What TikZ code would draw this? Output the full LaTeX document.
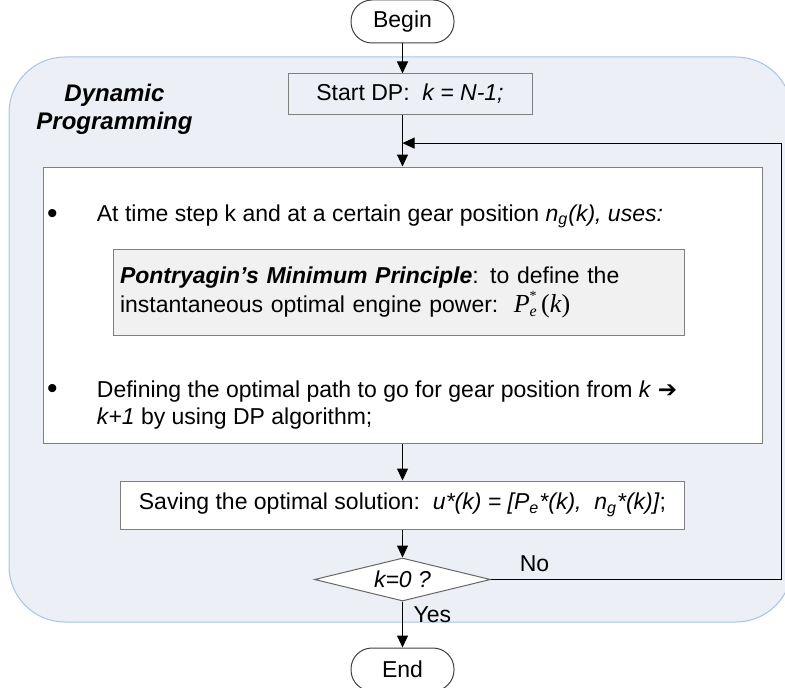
\documentclass[tikz,border=0pt]{standalone}
\usepackage{fontspec}
\setmainfont{Liberation Sans}
\newfontfamily\symfont{DejaVu Sans}
\newfontfamily\serif{Liberation Serif}
\usepackage{tikz}
\usetikzlibrary{arrows.meta,positioning,shapes.geometric,calc}
\definecolor{panelfill}{HTML}{ECEFF5}
\definecolor{panelline}{HTML}{A6C3EA}
\definecolor{boxline}{HTML}{7F7F7F}
\definecolor{greyfill}{HTML}{F1F1F1}
\newcommand{\pestar}{{\serif\fontsize{13}{14}\selectfont\textit{P}\rlap{\raisebox{5.8pt}{\fontsize{7}{7}\selectfont *}}\raisebox{-2.2pt}{\fontsize{8}{8}\selectfont\textit{e}}\,(\textit{k})}}

\begin{document}
\begin{tikzpicture}[
  x=1pt,y=1pt,
  font=\fontsize{11.5}{13.5}\selectfont,
  node distance=15pt,
  term/.style={draw=black!75,line width=0.5pt,rounded corners=10.5pt,fill=white,minimum width=51.5pt,minimum height=21.5pt,inner sep=0pt},
  box/.style={draw=boxline,line width=0.5pt,inner sep=0pt,align=center},
  decision/.style={draw=black!60,line width=0.5pt,diamond,aspect=4,fill=white,inner sep=0pt,minimum width=88pt,minimum height=21.5pt},
  arr/.style={-{Triangle[length=6pt,width=5.5pt]},line width=0.5pt},
  lbl/.style={inner sep=0pt},
  dot/.style={inner sep=0pt,font=\fontsize{15}{15}\selectfont}
]
\useasboundingbox (0,0) rectangle (392.5,343.5);
% background panel
\begin{scope}
\clip (0,0) rectangle (392.5,343.5);
\draw[panelline,fill=panelfill,line width=0.5pt,rounded corners=28pt] (4.5,32.5) rectangle (396,315);
\end{scope}
\node[lbl,font=\fontsize{12}{14}\selectfont\bfseries\itshape,align=center] (dp) at (57.25,289) {Dynamic\\Programming};

\node[term] (begin) at (201.25,332.75) {Begin};
\node[box,fill=panelfill,minimum width=122pt,minimum height=20pt,below=15pt of begin,xshift=3.75pt] (start) {Start DP:\ \ \textit{k = N-1;}};
\node[box,fill=white,minimum width=359.5pt,minimum height=138pt,below=26pt of start,xshift=-3.75pt] (bigbox) {};
\node[box,fill=greyfill,align=left,inner xsep=3.5pt,text width=278.5pt,minimum height=43pt,font=\fontsize{11.5}{14.5}\selectfont,below=41pt of bigbox.north,xshift=-2pt] (pmp) {\textbf{\textit{Pontryagin’s Minimum Principle}}: to define the\\instantaneous optimal engine power:\ \ \pestar};
\node[box,fill=white,minimum width=282pt,minimum height=24pt,below=18.5pt of bigbox] (saving) {Saving the optimal solution:\ \ \textit{u*(k) = [P\textsubscript{e}*(k),\ \ n\textsubscript{g}*(k)]};};
\node[decision,below=14pt of saving] (dec) {\textit{k=0 ?}};
\node[term,below=23pt of dec] (end) {End};

% bullet items
\node[dot] (dot1) at ($(bigbox.north west)+(5,-25)$) {\textbullet};
\node[lbl,anchor=west] (item1) at ($(bigbox.north west)+(27,-25)$) {At time step k and at a certain gear position \textit{n\textsubscript{g}(k), uses:}};
\node[dot] (dot2) at ($(bigbox.north west)+(5,-112.5)$) {\textbullet};
\node[lbl,anchor=west,align=left] (item2) at ($(bigbox.north west)+(27,-119.25)$) {Defining the optimal path to go for gear position from \textit{k} {\symfont\bfseries ➔}\\\textit{k+1} by using DP algorithm;};

\coordinate (loop) at ($(begin |- start.south)!0.55!(bigbox.north)$);
\coordinate[right=145pt of dec.east] (turn);

\draw[arr] (begin.south) -- (begin.south |- start.north);
\draw[arr] (begin |- start.south) -- (bigbox.north);
\draw[arr] (bigbox.south) -- (saving.north);
\draw[arr] (saving) -- (dec);
\draw[arr] (dec) -- node[lbl,right=5.25pt,pos=0.28]{Yes} (end);
\draw[arr] (dec.east) -- node[lbl,above=3.5pt,pos=0.15]{No} (turn) |- (loop);
\end{tikzpicture}
\end{document}
